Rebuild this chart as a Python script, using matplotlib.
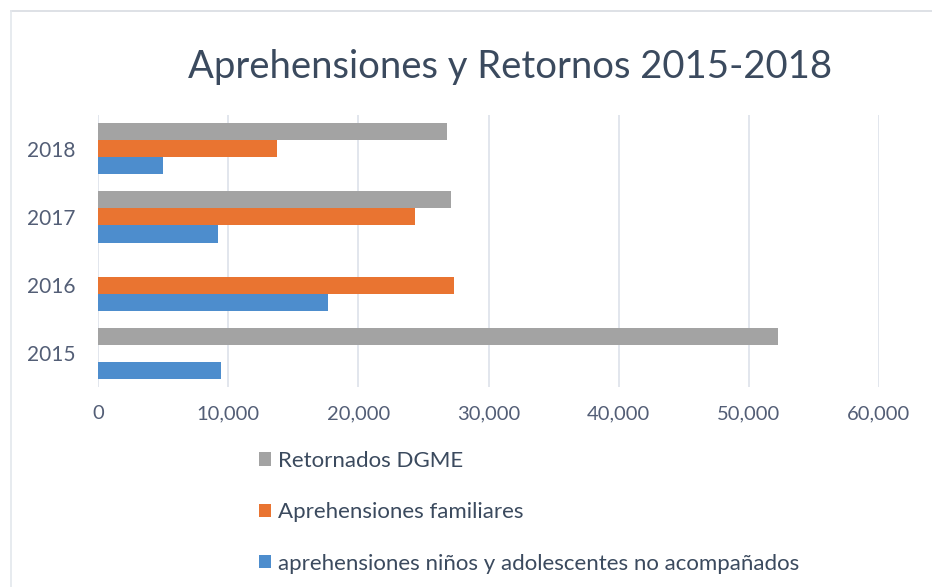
import numpy as np
import matplotlib
matplotlib.use('Agg')
import matplotlib.pyplot as plt
import matplotlib.ticker as ticker
from matplotlib.lines import Line2D
from matplotlib.patches import Patch

# ── Data ─────────────────────────────────────────────────────────────────────
YEARS = ['2015', '2016', '2017', '2018']
RETORNADOS = [52230, 0, 27110, 26780]
APREH_FAMILIARES = [0, 27370, 24350, 13770]
APREH_NNA = [9420, 17690, 9190, 4970]

SERIES_LABELS = ['Retornados DGME', 'Aprehensiones familiares',
                 'aprehensiones niños y adolescentes no acompañados']
X_TICKS = [0, 10000, 20000, 30000, 40000, 50000, 60000]

# ── Style ────────────────────────────────────────────────────────────────────
COLOR_GREY = '#A3A3A3'
COLOR_ORANGE = '#E97431'
COLOR_BLUE = '#4D8DCD'
TEXT_DARK = '#3B4A5E'
TEXT_TICK = '#535E76'
GRID = '#DDE2EA'

plt.rcParams['font.family'] = ['Lato', 'DejaVu Sans']

fig = plt.figure(figsize=(9.32, 5.87), dpi=100)
ax = fig.add_axes([0.1052, 0.3407, 0.8379, 0.4634])

y = np.arange(len(YEARS))
h = 0.25
ax.barh(y + h, RETORNADOS, h, color=COLOR_GREY, zorder=3)
ax.barh(y, APREH_FAMILIARES, h, color=COLOR_ORANGE, zorder=3)
ax.barh(y - h, APREH_NNA, h, color=COLOR_BLUE, zorder=3)

ax.set_xlim(0, 60000)
ax.set_ylim(-0.5, 3.5)
ax.set_xticks(X_TICKS)
ax.xaxis.set_major_formatter(ticker.FuncFormatter(lambda v, _: f'{v:,.0f}'))
ax.set_yticks(y)
ax.set_yticklabels(YEARS)
ax.tick_params(axis='x', length=0, pad=13, labelsize=14.5, labelcolor=TEXT_TICK)
ax.tick_params(axis='y', length=0, pad=16.5, labelsize=15, labelcolor=TEXT_TICK)

for s in ax.spines.values():
    s.set_visible(False)
ax.grid(axis='x', color=GRID, linewidth=1.2, zorder=0)
ax.grid(axis='y', visible=False)

fig.text(0.547, 0.886, 'Aprehensiones y Retornos 2015-2018', ha='center', va='center',
         fontsize=27.5, color=TEXT_DARK)

handles = [Patch(facecolor=COLOR_GREY), Patch(facecolor=COLOR_ORANGE), Patch(facecolor=COLOR_BLUE)]
fig.legend(handles, SERIES_LABELS, loc='upper left', bbox_to_anchor=(0.2685, 0.247),
           frameon=False, fontsize=16, labelcolor=TEXT_DARK, handlelength=0.55,
           handleheight=0.55, handletextpad=0.3, labelspacing=1.41, borderaxespad=0)

# light frame around the chart area
fig.add_artist(Line2D([11 / 932, 1], [1 - 11 / 587, 1 - 11 / 587], color='#D8DCE2', lw=1.2))
fig.add_artist(Line2D([11 / 932, 11 / 932], [0, 1 - 11 / 587], color='#E3E7EC', lw=1.2))

fig.savefig('out.png', dpi=100)
